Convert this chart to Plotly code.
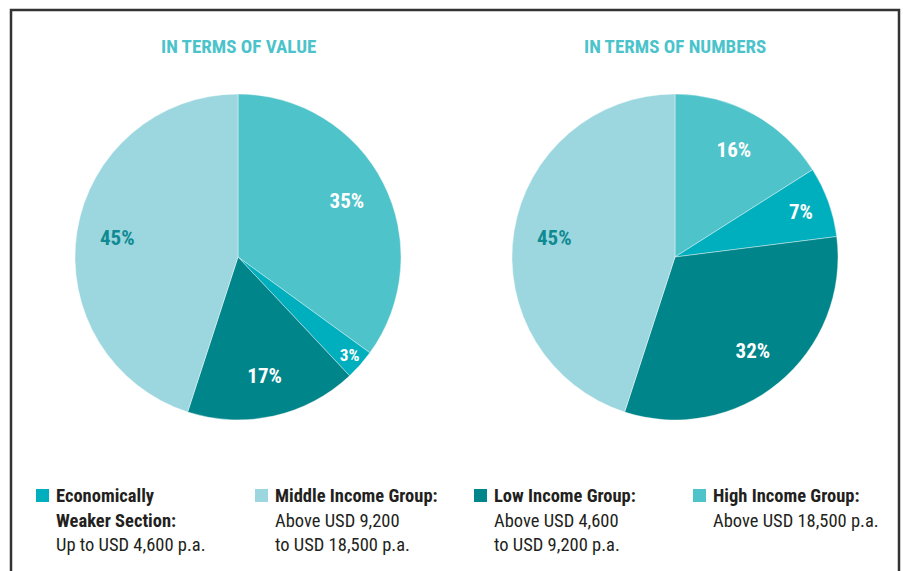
import plotly.graph_objects as go

# ---- data ----
categories = ["High Income Group", "Economically Weaker Section", "Low Income Group", "Middle Income Group"]
value_share = [35, 3, 17, 45]      # In terms of value (%)
number_share = [16, 7, 32, 45]     # In terms of numbers (%)
pie_titles = ["IN TERMS OF VALUE", "IN TERMS OF NUMBERS"]

legend_order = ["Economically Weaker Section", "Middle Income Group", "Low Income Group", "High Income Group"]
legend_titles = [["Economically", "Weaker Section:"], ["Middle Income Group:"], ["Low Income Group:"], ["High Income Group:"]]
legend_desc = [["Up to USD 4,600 p.a."], ["Above USD 9,200", "to USD 18,500 p.a."],
               ["Above USD 4,600", "to USD 9,200 p.a."], ["Above USD 18,500 p.a."]]

# ---- styles ----
colors = {
    "High Income Group": "#4FC3CA",
    "Economically Weaker Section": "#00AFBD",
    "Low Income Group": "#00858A",
    "Middle Income Group": "#9CD7DF",
}
text_colors = {
    "High Income Group": "white",
    "Economically Weaker Section": "white",
    "Low Income Group": "white",
    "Middle Income Group": "#0F8A92",
}
FONT = "Liberation Sans Narrow, Roboto Condensed, DejaVu Sans Condensed, Arial Narrow, sans-serif"
W, H = 903, 571

def px_x(x):
    return x / W

def px_y(y):
    return 1 - y / H

fig = go.Figure()
centers = [238, 675]
R = 163
cy = 257
for i, vals in enumerate([value_share, number_share]):
    cx = centers[i]
    dom = dict(x=[px_x(cx - R), px_x(cx + R)], y=[px_y(cy + R), px_y(cy - R)])
    # coloured slices
    fig.add_trace(go.Pie(
        labels=categories, values=vals, sort=False, direction="clockwise", rotation=0,
        marker=dict(colors=[colors[c] for c in categories], line=dict(color="white", width=0.4)),
        textinfo="none", hoverinfo="label+percent", showlegend=False, domain=dom,
    ))
    # transparent ring carrying the percentage labels toward the outer part of the slices
    fig.add_trace(go.Pie(
        labels=categories, values=vals, sort=False, direction="clockwise", rotation=0, hole=0.5,
        marker=dict(colors=["rgba(0,0,0,0)"] * len(categories), line=dict(width=0)),
        texttemplate="<b>%{value}%</b>", textposition="inside", insidetextorientation="horizontal",
        textfont=dict(family=FONT, size=21, color=[text_colors[c] for c in categories]),
        hoverinfo="skip", showlegend=False, domain=dom,
    ))

annotations = []
for i, t in enumerate(pie_titles):
    annotations.append(dict(
        x=px_x(centers[i]), y=px_y(46), xref="paper", yref="paper",
        text="<b>" + t + "</b>", showarrow=False, xanchor="center", yanchor="middle",
        font=dict(family=FONT, size=19, color="#4BC3CB"),
    ))

shapes = []
sq_x = [36, 255, 474, 693]
line_y = [496, 520.5, 545]
for i, name in enumerate(legend_order):
    x0 = sq_x[i]
    shapes.append(dict(type="rect", xref="paper", yref="paper",
                       x0=px_x(x0), x1=px_x(x0 + 13), y0=px_y(502), y1=px_y(489),
                       fillcolor=colors[name], line=dict(width=0)))
    lines = [("<b>" + s + "</b>") for s in legend_titles[i]] + legend_desc[i]
    for j, s in enumerate(lines):
        annotations.append(dict(
            x=px_x(x0 + 18), y=px_y(line_y[j]), xref="paper", yref="paper",
            text=s, showarrow=False, xanchor="left", yanchor="middle",
            font=dict(family=FONT, size=18.5, color="#231F20"),
        ))

# outer frame
shapes.append(dict(type="rect", xref="paper", yref="paper",
                   x0=px_x(11), x1=px_x(899), y0=px_y(600), y1=px_y(10),
                   line=dict(color="#333333", width=2.5), fillcolor="rgba(0,0,0,0)"))

fig.update_layout(
    width=W, height=H,
    margin=dict(l=0, r=0, t=0, b=0),
    paper_bgcolor="white", plot_bgcolor="white",
    annotations=annotations, shapes=shapes,
    font=dict(family=FONT),
)
fig.write_html("out.html", config={"displayModeBar": False},
               post_script="document.body.style.margin='0';document.body.style.padding='0';document.body.style.overflow='hidden';")
